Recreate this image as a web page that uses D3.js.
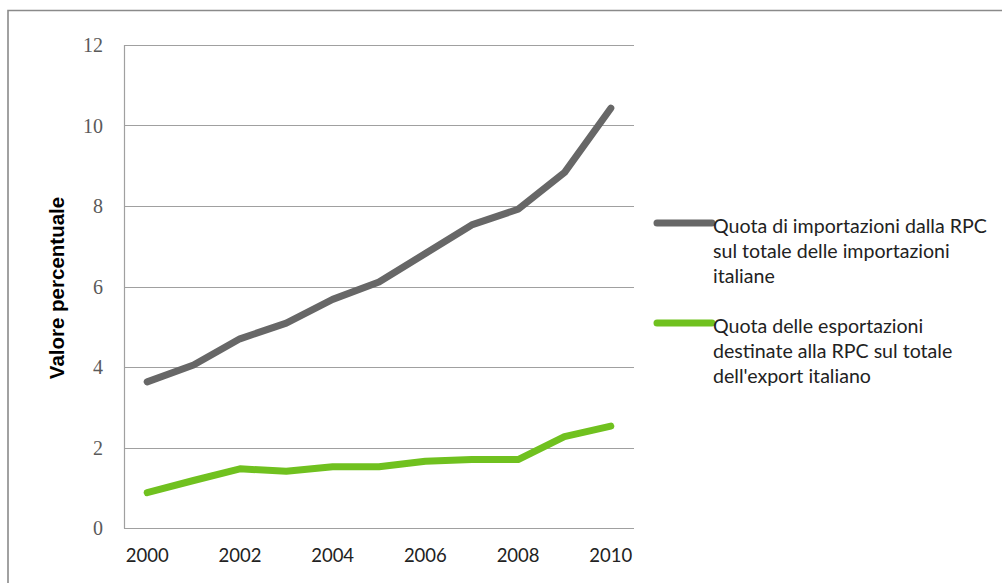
<!DOCTYPE html>
<html>
<head>
<meta charset="utf-8">
<script src="https://cdn.jsdelivr.net/npm/d3@7"></script>
<style>
  html, body { margin: 0; padding: 0; background: #fff; }
  svg { display: block; }
</style>
</head>
<body>
<div id="chart"></div>
<script>
// anni e valori
const years = [2000, 2001, 2002, 2003, 2004, 2005, 2006, 2007, 2008, 2009, 2010];
const importShare = [3.63, 4.05, 4.70, 5.09, 5.68, 6.11, 6.82, 7.53, 7.92, 8.83, 10.43];
const exportShare = [0.88, 1.18, 1.47, 1.41, 1.52, 1.52, 1.66, 1.70, 1.70, 2.27, 2.53];
const yTicks = [0, 2, 4, 6, 8, 10, 12];
const xTickYears = [2000, 2002, 2004, 2006, 2008, 2010];
const seriesNames = [
  ["Quota di importazioni dalla RPC", "sul totale delle importazioni", "italiane"],
  ["Quota delle esportazioni", "destinate alla RPC sul totale", "dell'export italiano"]
];
const seriesColors = ["#676767", "#70c11f"];

const width = 1002, height = 583;
const plot = {left: 124, right: 634, top: 45, bottom: 528};

const svg = d3.select("#chart").append("svg")
  .attr("width", width)
  .attr("height", height);

// cornice esterna (solo lati sinistro e superiore visibili)
svg.append("path")
  .attr("d", `M8,${height + 5}V10.5H${width + 5}`)
  .attr("fill", "none")
  .attr("stroke", "#8a8a8a")
  .attr("stroke-width", 1.6);

const x = d3.scalePoint()
  .domain(years)
  .range([plot.left, plot.right])
  .padding(0.5);

const y = d3.scaleLinear()
  .domain([0, 12])
  .range([plot.bottom, plot.top]);

// griglia orizzontale
svg.append("g")
  .selectAll("line")
  .data(yTicks)
  .join("line")
  .attr("x1", plot.left)
  .attr("x2", plot.right)
  .attr("y1", d => Math.round(y(d)) + 0.5)
  .attr("y2", d => Math.round(y(d)) + 0.5)
  .attr("stroke", "#a0a0a0")
  .attr("stroke-width", 1.2);

// asse verticale
svg.append("line")
  .attr("x1", plot.left + 0.5)
  .attr("x2", plot.left + 0.5)
  .attr("y1", plot.top)
  .attr("y2", plot.bottom + 0.5)
  .attr("stroke", "#a0a0a0")
  .attr("stroke-width", 1.2);

// etichette asse y
svg.append("g")
  .selectAll("text")
  .data(yTicks)
  .join("text")
  .attr("x", 103)
  .attr("y", d => y(d))
  .attr("dy", "0.35em")
  .attr("text-anchor", "end")
  .attr("font-family", "'Liberation Serif', serif")
  .attr("font-size", 20)
  .attr("fill", "#5a5a5a")
  .text(d => d);

// etichette asse x
svg.append("g")
  .selectAll("text")
  .data(xTickYears)
  .join("text")
  .attr("x", d => x(d))
  .attr("y", 562)
  .attr("text-anchor", "middle")
  .attr("font-family", "Lato, sans-serif")
  .attr("font-size", 18.5)
  .attr("fill", "#222")
  .text(d => d);

// titolo asse y
svg.append("text")
  .attr("transform", "translate(64,288) rotate(-90)")
  .attr("text-anchor", "middle")
  .attr("font-family", "'Liberation Sans', Arial, sans-serif")
  .attr("font-weight", "bold")
  .attr("font-size", 20.5)
  .attr("fill", "#000")
  .text("Valore percentuale");

// linee
const line = d3.line()
  .x((d, i) => x(years[i]))
  .y(d => y(d));

[importShare, exportShare].forEach((values, k) => {
  svg.append("path")
    .datum(values)
    .attr("d", line)
    .attr("fill", "none")
    .attr("stroke", seriesColors[k])
    .attr("stroke-width", 7)
    .attr("stroke-linecap", "round")
    .attr("stroke-linejoin", "round");
});

// legenda
const legendY = [223, 323];
seriesNames.forEach((lines, k) => {
  const g = svg.append("g");
  g.append("line")
    .attr("x1", 657)
    .attr("x2", 712)
    .attr("y1", legendY[k])
    .attr("y2", legendY[k])
    .attr("stroke", seriesColors[k])
    .attr("stroke-width", 7)
    .attr("stroke-linecap", "round");
  g.append("text")
    .attr("font-family", "Lato, sans-serif")
    .attr("font-size", 19.6)
    .attr("fill", "#222")
    .selectAll("tspan")
    .data(lines)
    .join("tspan")
    .attr("x", 713)
    .attr("y", (d, i) => legendY[k] + 10 + i * 25)
    .text(d => d);
});
</script>
</body>
</html>
